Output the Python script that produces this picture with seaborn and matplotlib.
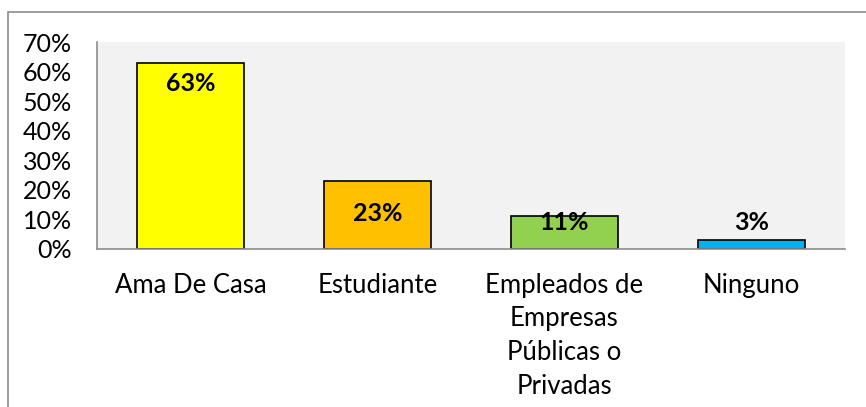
import matplotlib
matplotlib.use('Agg')
import matplotlib.pyplot as plt
import seaborn as sns
import pandas as pd
from matplotlib.patches import Rectangle
from matplotlib.ticker import PercentFormatter

# datos
categorias = ['Ama De Casa', 'Estudiante', 'Empleados de\nEmpresas\nPúblicas o\nPrivadas', 'Ninguno']
valores = [0.63, 0.23, 0.11, 0.03]
etiquetas = ['63%', '23%', '11%', '3%']
pos_etiqueta = [0.56, 0.12, 0.088, 0.088]
colores = ['#FFFF00', '#FFC000', '#92D050', '#00B0F0']

sns.set_style('white')
plt.rcParams['font.family'] = ['Lato', 'DejaVu Sans']

df = pd.DataFrame({'cat': categorias, 'val': valores})

fig = plt.figure(figsize=(8.66, 4.07), dpi=100)
ax = fig.add_axes([97/866, 1 - 249/407, (845-97)/866, (249-42)/407])
sns.barplot(data=df, x='cat', y='val', hue='cat', palette=colores, legend=False,
            width=0.57, edgecolor='black', linewidth=1.2, ax=ax, saturation=1)

ax.set_facecolor('#F2F2F2')
ax.set_ylim(0, 0.7)
ax.set_yticks([i/10 for i in range(8)])
ax.yaxis.set_major_formatter(PercentFormatter(1.0, decimals=0))
ax.set_xlabel('')
ax.set_ylabel('')
for s in ['top', 'right']:
    ax.spines[s].set_visible(False)
for s in ['left', 'bottom']:
    ax.spines[s].set_color('#8c8c8c')
    ax.spines[s].set_linewidth(1.2)
ax.tick_params(axis='y', labelsize=18, length=0, pad=18, labelcolor='black')
ax.tick_params(axis='x', labelsize=18.5, length=0, pad=17, labelcolor='black')
for lbl in ax.get_xticklabels():
    lbl.set_linespacing(1.44)
    lbl.set_verticalalignment('top')

for i, (txt, y) in enumerate(zip(etiquetas, pos_etiqueta)):
    ax.text(i, y, txt, ha='center', va='center', fontsize=18, fontweight='bold', color='black')

# borde exterior del area del grafico
fig.patches.append(Rectangle((8/866, -0.1), 1.2, 1 - 12/407 + 0.1, transform=fig.transFigure,
                             fill=False, edgecolor='#8c8c8c', linewidth=1.2))

fig.savefig('out.png', dpi=100)
